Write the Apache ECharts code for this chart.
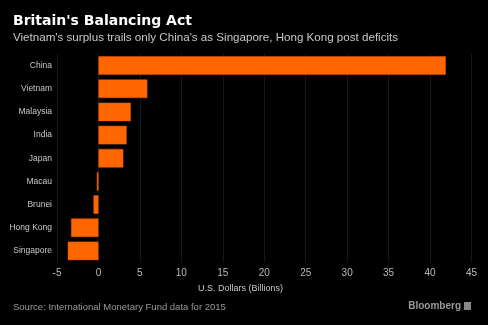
<!DOCTYPE html>
<html>
<head>
<meta charset="utf-8">
<script src="https://cdn.jsdelivr.net/npm/echarts@6/dist/echarts.min.js"></script>
<style>
  html, body { margin: 0; padding: 0; background: #000; }
  #chart { width: 488px; height: 325px; }
</style>
</head>
<body>
<div id="chart"></div>
<script>
// 2015 trade balance with the UK, billions of US dollars
const countries = ['China', 'Vietnam', 'Malaysia', 'India', 'Japan', 'Macau', 'Brunei', 'Hong Kong', 'Singapore'];
const balances = [41.9, 5.9, 3.9, 3.4, 3.0, -0.2, -0.6, -3.3, -3.7];
const xTicks = { min: -5, max: 45, step: 5 };

const chart = echarts.init(document.getElementById('chart'), null, { renderer: 'canvas' });
const font = 'Liberation Sans, Arial, sans-serif';

chart.setOption({
  backgroundColor: '#000',
  animation: false,
  title: [
    {
      text: "Britain's Balancing Act",
      left: 8, top: 9,
      textStyle: { color: '#fff', fontSize: 14, fontWeight: 'bold', fontFamily: 'DejaVu Sans' }
    },
    {
      text: "Vietnam's surplus trails only China's as Singapore, Hong Kong post deficits",
      left: 8, top: 27,
      textStyle: { color: '#c8c8c8', fontSize: 11.6, fontWeight: 'normal', fontFamily: font }
    }
  ],
  grid: { left: 57, right: 16.5, top: 54, bottom: 62.5, containLabel: false },
  xAxis: {
    type: 'value',
    min: xTicks.min, max: xTicks.max, interval: xTicks.step,
    axisLine: { show: false },
    axisTick: { show: false },
    splitLine: { lineStyle: { color: '#161616', width: 1 } },
    axisLabel: { color: '#bbb', fontSize: 10, fontFamily: font, margin: 6 }
  },
  yAxis: {
    type: 'category',
    data: countries,
    inverse: true,
    axisLine: { show: false },
    axisTick: { show: false },
    axisLabel: { color: '#c8c8c8', fontSize: 8.5, fontFamily: font, margin: 5 }
  },
  series: [{
    type: 'bar',
    data: balances,
    barCategoryGap: '20%',
    itemStyle: { color: '#ff6600', borderColor: '#e65500', borderWidth: 0.5 }
  }],
  graphic: [
    {
      type: 'text', left: 198, top: 284,
      style: { text: 'U.S. Dollars (Billions)', fill: '#c8c8c8', fontSize: 9, fontFamily: font }
    },
    {
      type: 'text', left: 13, top: 302,
      style: { text: 'Source: International Monetary Fund data for 2015', fill: '#999', fontSize: 9.5, fontFamily: font }
    },
    {
      type: 'text', right: 27, top: 301,
      style: { text: 'Bloomberg', fill: '#999', fontSize: 10, fontWeight: 'bold', fontFamily: font }
    },
    {
      type: 'rect', right: 17, top: 302,
      shape: { width: 7, height: 8 },
      style: { fill: '#888' }
    }
  ]
});
</script>
</body>
</html>
